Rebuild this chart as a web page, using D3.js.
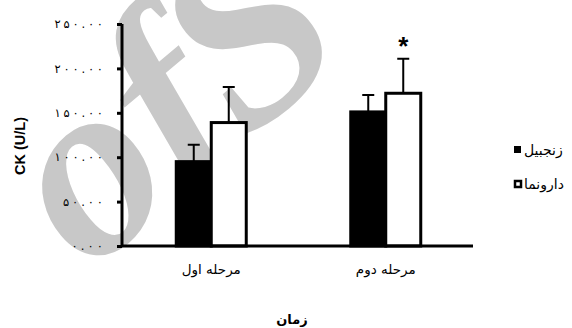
<!DOCTYPE html>
<html>
<head>
<meta charset="utf-8">
<script src="https://d3js.org/d3.v7.min.js"></script>
<style>
	body { margin: 0; background: #fff; }
	svg { display: block; }
	.fa { font-family: "DejaVu Sans", sans-serif; }
</style>
</head>
<body>
<svg id="chart-svg" width="572" height="328"></svg>
<script>
// data
var stages = ["مرحله اول", "مرحله دوم"];
var groups = ["زنجبیل", "دارونما"];
var ginger = [95, 151];
var placebo = [139, 172];
var gingerErr = [19, 19];
var placeboErr = [40, 39];
var significant = [false, true];
var yTicks = [0, 50, 100, 150, 200, 250];
var yTickLabels = ["۰.۰۰", "۵۰.۰۰", "۱۰۰.۰۰", "۱۵۰.۰۰", "۲۰۰.۰۰", "۲۵۰.۰۰"];

var svg = d3.select('#chart-svg');

// watermark behind everything
svg.append("text")
	.attr("transform", "translate(88,274) rotate(-40)")
	.style("font-family", "Liberation Serif")
	.style("font-style", "italic")
	.style("font-weight", "bold")
	.style("font-size", "255px")
	.style("word-spacing", "-70px")
	.style("fill", "#c8c8c8")
	.text("of S");

var x0 = d3.scaleBand().domain(stages).range([124, 473]);
var x1 = d3.scaleBand().domain(groups).range([0, 70]);
var y = d3.scaleLinear().domain([0, 250]).range([246, 24]);

var rows = stages.map(function(s, i) {
	return [
		{ stage: s, group: groups[0], value: ginger[i], err: gingerErr[i] },
		{ stage: s, group: groups[1], value: placebo[i], err: placeboErr[i] }
	];
});

var g = svg.selectAll(".stage").data(rows).enter().append("g")
	.attr("class", "stage")
	.attr("transform", function(d, i) {
		return "translate(" + (x0(stages[i]) + x0.bandwidth() / 2 - 35) + ",0)";
	});

// error bars (only upwards)
g.selectAll(".err").data(function(d) { return d; }).enter().append("path")
	.attr("class", "err")
	.attr("d", function(d) {
		var cx = x1(d.group) + x1.bandwidth() / 2;
		var top = y(d.value + d.err);
		return "M" + cx + "," + y(d.value) + "V" + top + "M" + (cx - 6) + "," + top + "H" + (cx + 6);
	})
	.style("stroke", "#000")
	.style("stroke-width", 2)
	.style("fill", "none");

g.selectAll(".bar").data(function(d) { return d; }).enter().append("rect")
	.attr("class", "bar")
	.attr("x", function(d) { return x1(d.group); })
	.attr("y", function(d) { return y(d.value); })
	.attr("width", x1.bandwidth())
	.attr("height", function(d) { return y(0) - y(d.value); })
	.style("fill", function(d) { return d.group == groups[0] ? "#000" : "#fff"; })
	.style("stroke", "#000")
	.style("stroke-width", 3);

// star for significant difference
g.filter(function(d, i) { return significant[i]; })
	.append("text")
	.attr("x", x1(groups[1]) + x1.bandwidth() / 2)
	.attr("y", function(d) { return y(d[1].value + d[1].err) - 4; })
	.style("text-anchor", "middle")
	.style("font-family", "Liberation Sans")
	.style("font-weight", "bold")
	.style("font-size", "26px")
	.text("*");

// axes
var yAxis = svg.append("g")
	.attr("class", "y axis")
	.attr("transform", "translate(122,0)")
	.call(d3.axisLeft(y).tickValues(yTicks).tickSize(5).tickFormat(function(d, i) { return yTickLabels[i]; }));
yAxis.select(".domain").attr("d", "M0," + y(250) + "V" + y(0)).style("stroke-width", 3);
yAxis.selectAll(".tick line").style("stroke-width", 3);
yAxis.selectAll(".tick text")
	.attr("x", -19)
	.attr("class", "fa")
	.style("font-size", "11.5px")
	.attr("textLength", function(d, i) { return yTickLabels[i].length * 8.4 - 2; })
	.attr("lengthAdjust", "spacing");

var xAxis = svg.append("g")
	.attr("class", "x axis")
	.attr("transform", "translate(0," + y(0) + ")")
	.call(d3.axisBottom(x0).tickSize(0).tickPadding(18));
xAxis.select(".domain").attr("d", "M121,0H473").style("stroke-width", 3);
xAxis.selectAll(".tick text")
	.attr("class", "fa")
	.style("font-size", "13.5px");

// axis titles
svg.append("text")
	.attr("transform", "translate(25,146) rotate(-90)")
	.style("text-anchor", "middle")
	.style("font-family", "Liberation Sans")
	.style("font-weight", "bold")
	.style("font-size", "14.5px")
	.text("CK (U/L)");

svg.append("text")
	.attr("class", "fa")
	.attr("x", 292)
	.attr("y", 324)
	.style("text-anchor", "middle")
	.style("font-weight", "bold")
	.style("font-size", "13px")
	.text("زمان");

// legend
var legend = svg.selectAll(".legend").data(groups).enter().append("g")
	.attr("class", "legend")
	.attr("transform", function(d, i) { return "translate(514," + (146 + i * 34) + ")"; });
legend.append("rect")
	.attr("width", function(d, i) { return i == 0 ? 7 : 6; })
	.attr("height", function(d, i) { return i == 0 ? 7 : 6; })
	.attr("x", function(d, i) { return i == 0 ? 0 : 1; })
	.attr("y", function(d, i) { return i == 0 ? 0 : 1; })
	.style("fill", function(d, i) { return i == 0 ? "#000" : "#fff"; })
	.style("stroke", "#000")
	.style("stroke-width", function(d, i) { return i == 0 ? 0 : 2.5; });
legend.append("text")
	.attr("class", "fa")
	.attr("x", 10)
	.attr("y", 9)
	.style("font-size", "14px")
	.text(function(d) { return d; });
</script>
</body>
</html>
